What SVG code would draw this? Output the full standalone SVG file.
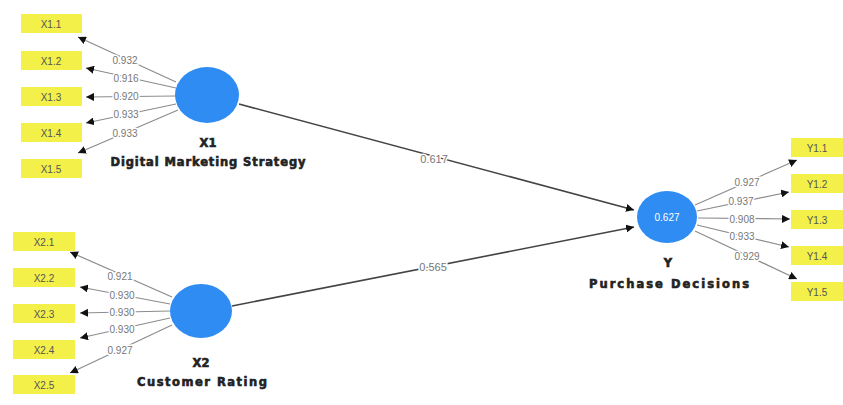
<svg xmlns="http://www.w3.org/2000/svg" width="843" height="405" viewBox="0 0 843 405">
<style>
.box{fill:#f3f04a}
.bt{font-family:"Liberation Sans",Arial,sans-serif;font-size:10px;fill:#555;text-anchor:middle;dominant-baseline:central}
.lv{fill:#2f8cf3}
.ld{stroke:#8c8c8c;stroke-width:1.2;fill:none;marker-end:url(#ah)}
.st{stroke:#444;stroke-width:1.6;fill:none;marker-end:url(#ah)}
.lb{font-family:"Liberation Sans",Arial,sans-serif;font-size:10px;fill:#777;text-anchor:middle;dominant-baseline:central;stroke:#fff;stroke-width:3;paint-order:stroke}
.sl{font-family:"Liberation Sans",Arial,sans-serif;font-size:11px;fill:#777;text-anchor:middle;dominant-baseline:central;stroke:#fff;stroke-width:3;paint-order:stroke}
.nm{font-family:"DejaVu Sans","Liberation Sans",sans-serif;font-size:11.5px;font-weight:bold;fill:#222;text-anchor:middle;stroke:#222;stroke-width:0.6}
.r2{font-family:"Liberation Sans",Arial,sans-serif;font-size:10px;fill:#fff;text-anchor:middle;dominant-baseline:central}
</style>
<defs>
<marker id="ah" markerUnits="userSpaceOnUse" markerWidth="9" markerHeight="8" refX="8" refY="4" orient="auto">
<path d="M0,0 L8,4 L0,8 z" fill="#111"/>
</marker>
</defs>
<rect width="843" height="405" fill="#fff"/>
<g id="connectors">
<line class="ld" x1="176" y1="82" x2="78" y2="37"/>
<line class="ld" x1="176" y1="88" x2="86" y2="68"/>
<line class="ld" x1="176" y1="96" x2="86" y2="97"/>
<line class="ld" x1="176" y1="104" x2="86" y2="123"/>
<line class="ld" x1="178" y1="110" x2="78" y2="153"/>
<line class="ld" x1="172" y1="297" x2="70" y2="252"/>
<line class="ld" x1="170" y1="304" x2="80" y2="287"/>
<line class="ld" x1="170" y1="311" x2="80" y2="313"/>
<line class="ld" x1="170" y1="318" x2="80" y2="338"/>
<line class="ld" x1="172" y1="325" x2="70" y2="373"/>
<line class="ld" x1="695" y1="205" x2="797" y2="160"/>
<line class="ld" x1="697" y1="211" x2="789" y2="192"/>
<line class="ld" x1="698" y1="218" x2="790" y2="219"/>
<line class="ld" x1="697" y1="225" x2="789" y2="247"/>
<line class="ld" x1="695" y1="231" x2="797" y2="279"/>
<line class="st" x1="239" y1="104" x2="634" y2="210"/>
<line class="st" x1="232" y1="306" x2="634" y2="227"/>
<text class="lb" x="125" y="60">0.932</text>
<text class="lb" x="126" y="78">0.916</text>
<text class="lb" x="126" y="96">0.920</text>
<text class="lb" x="126" y="114">0.933</text>
<text class="lb" x="125" y="133">0.933</text>
<text class="lb" x="120" y="276">0.921</text>
<text class="lb" x="122" y="295">0.930</text>
<text class="lb" x="122" y="312">0.930</text>
<text class="lb" x="122" y="329">0.930</text>
<text class="lb" x="120" y="350">0.927</text>
<text class="lb" x="747" y="182">0.927</text>
<text class="lb" x="741" y="201">0.937</text>
<text class="lb" x="742" y="219">0.908</text>
<text class="lb" x="742" y="236">0.933</text>
<text class="lb" x="747" y="256">0.929</text>
<text class="sl" x="434" y="159">0.617</text>
<text class="sl" x="433" y="267">0.565</text>
</g>
<g id="X1">
<ellipse class="lv" cx="207" cy="95" rx="32" ry="28"/>
<text class="nm" x="208" y="147">X1</text>
<text class="nm" x="208" y="166" textLength="195" lengthAdjust="spacing">Digital Marketing Strategy</text>
</g>
<g id="X2">
<ellipse class="lv" cx="201" cy="311" rx="31" ry="27"/>
<text class="nm" x="201" y="367">X2</text>
<text class="nm" x="202" y="386" textLength="130" lengthAdjust="spacing">Customer Rating</text>
</g>
<g id="Y">
<ellipse class="lv" cx="667" cy="217" rx="30" ry="26"/>
<text class="r2" x="667" y="217">0.627</text>
<text class="nm" x="668" y="267">Y</text>
<text class="nm" x="669" y="288" textLength="160" lengthAdjust="spacing">Purchase Decisions</text>
</g>
<g id="X1.1"><rect class="box" x="21" y="14" width="61" height="19"/><text class="bt" x="51" y="24">X1.1</text></g>
<g id="X1.2"><rect class="box" x="21" y="51" width="61" height="19"/><text class="bt" x="51" y="61">X1.2</text></g>
<g id="X1.3"><rect class="box" x="21" y="87" width="61" height="19"/><text class="bt" x="51" y="97">X1.3</text></g>
<g id="X1.4"><rect class="box" x="21" y="123" width="61" height="19"/><text class="bt" x="51" y="133">X1.4</text></g>
<g id="X1.5"><rect class="box" x="21" y="159" width="61" height="19"/><text class="bt" x="51" y="169">X1.5</text></g>
<g id="X2.1"><rect class="box" x="13" y="232" width="62" height="19"/><text class="bt" x="44" y="242">X2.1</text></g>
<g id="X2.2"><rect class="box" x="13" y="268" width="62" height="19"/><text class="bt" x="44" y="278">X2.2</text></g>
<g id="X2.3"><rect class="box" x="13" y="304" width="62" height="19"/><text class="bt" x="44" y="314">X2.3</text></g>
<g id="X2.4"><rect class="box" x="13" y="340" width="62" height="19"/><text class="bt" x="44" y="350">X2.4</text></g>
<g id="X2.5"><rect class="box" x="13" y="375" width="62" height="19"/><text class="bt" x="44" y="385">X2.5</text></g>
<g id="Y1.1"><rect class="box" x="791" y="138" width="52" height="19"/><text class="bt" x="817" y="148">Y1.1</text></g>
<g id="Y1.2"><rect class="box" x="791" y="174" width="52" height="19"/><text class="bt" x="817" y="184">Y1.2</text></g>
<g id="Y1.3"><rect class="box" x="791" y="210" width="52" height="19"/><text class="bt" x="817" y="220">Y1.3</text></g>
<g id="Y1.4"><rect class="box" x="791" y="246" width="52" height="19"/><text class="bt" x="817" y="256">Y1.4</text></g>
<g id="Y1.5"><rect class="box" x="791" y="282" width="52" height="19"/><text class="bt" x="817" y="292">Y1.5</text></g>
</svg>
